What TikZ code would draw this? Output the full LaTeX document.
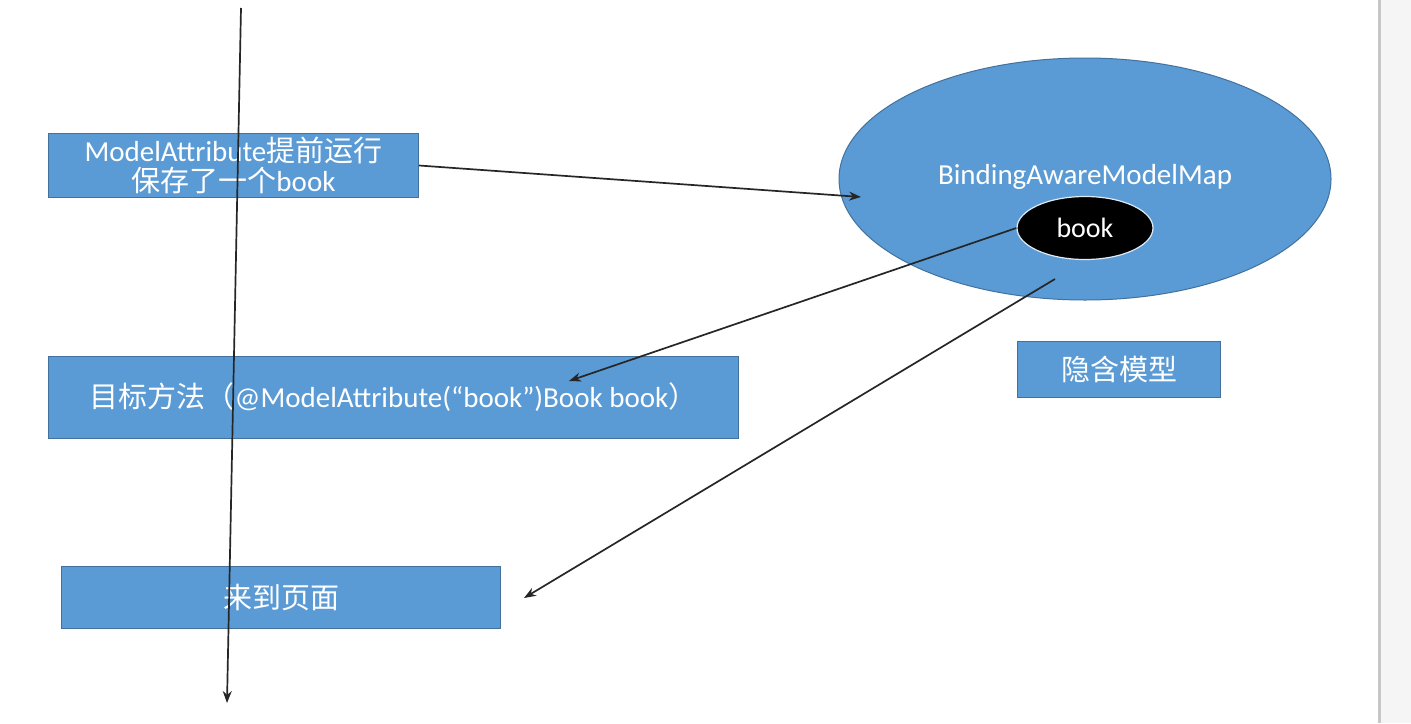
\documentclass[tikz,border=0pt]{standalone}
\usepackage{fontspec}
\setmainfont{Carlito}
\newfontfamily\cjk{Noto Sans CJK SC}
\usetikzlibrary{arrows.meta,shapes.geometric}
\definecolor{boxblue}{HTML}{5B9BD5}
\definecolor{boxedge}{HTML}{41719C}
\tikzset{
  bluebox/.style={draw=boxedge,fill=boxblue,line width=1pt,text=white,inner sep=0pt,anchor=north west,align=center,font=\fontsize{29}{34}\selectfont},
  conn/.style={draw=black!85,line width=1.7pt,-{Stealth[length=12pt,width=9pt]}},
}
\begin{document}
\begin{tikzpicture}[x=1pt,y=-1pt]
\useasboundingbox (0,0) rectangle (1411,723);
\fill[white] (0,0) rectangle (1411,723);
\fill[black!4] (1380,0) rectangle (1411,723);
\draw[black!22,line width=3pt] (1379,0) -- (1379,723);
% boxes
\node[bluebox,minimum width=370pt,minimum height=64pt] (b1) at (48,133) {ModelAttribute{\cjk 提前运行}\\[-4pt]{\cjk 保存了一个}book};
\node[bluebox,minimum width=690pt,minimum height=82pt] (b2) at (48,356) {{\cjk 目标方法（}@ModelAttribute(“book”)Book book{\cjk ）}};
\node[bluebox,minimum width=439pt,minimum height=62pt] (b3) at (61,566) {{\cjk 来到页面}};
\node[bluebox,minimum width=203pt,minimum height=56pt] (b4) at (1017,341) {{\cjk 隐含模型}};
% ellipses
\node[ellipse,draw=boxedge,fill=boxblue,line width=1pt,minimum width=492pt,minimum height=242pt,inner sep=0pt] (map) at (1085,179) {};
\node[text=white,font=\fontsize{29}{34}\selectfont] (maplabel) at (1085,177) {BindingAwareModelMap};
\node[ellipse,draw=white!80!boxblue,fill=black,line width=1.2pt,minimum width=136pt,minimum height=63pt,inner sep=0pt,text=white,font=\fontsize{28}{33}\selectfont] (bk) at (1085,228) {book};
% coordinates
\coordinate (vtop) at (241,8);
\coordinate (vbot) at (227,703);
\coordinate (a1e) at (861,197);
\coordinate (a2e) at (569,381);
\coordinate (a3s) at (1055,279);
\coordinate (a3e) at (524,598);
% connectors
\draw[conn] (vtop) -- (vbot);
\draw[conn] (b1.east) -- (a1e);
\draw[conn] (bk.west) -- (a2e);
\draw[conn] (a3s) -- (a3e);
\end{tikzpicture}
\end{document}
